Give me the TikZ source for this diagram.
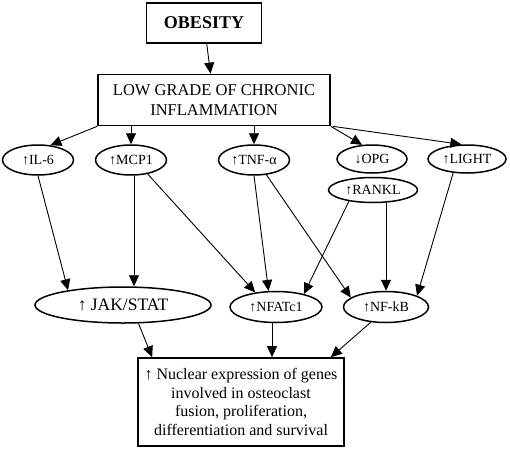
\documentclass[tikz,border=0pt]{standalone}
\usepackage{fontspec}
\setmainfont{Liberation Serif}
\usetikzlibrary{arrows.meta,shapes.geometric}
\tikzset{
  >={Triangle[length=11pt,width=10pt]},
  % rutor
  box/.style={draw,line width=1.7pt,align=center,inner sep=0pt},
  % ovaler
  oval/.style={ellipse,draw,line width=1.5pt,inner sep=0pt,
               minimum height=30pt,font=\fontsize{14}{16}\selectfont},
  link/.style={->,draw=black,line width=0.9pt},
}
\begin{document}
\begin{tikzpicture}[x=1pt,y=-1pt]
  \useasboundingbox (0,0) rectangle (510,450);
  \node[box,minimum width=115pt,minimum height=40pt,font=\fontsize{18}{20}\selectfont\bfseries]
    (obes) at (204,23) {OBESITY};
  \node[box,minimum width=232pt,minimum height=51pt,font=\fontsize{16.5}{20}\selectfont]
    (lgci) at (214,100) {LOW GRADE OF CHRONIC\\INFLAMMATION};
  \node[oval,minimum width=71pt] (il6) at (38,160) {↑IL-6};
  \node[oval,minimum width=71pt] (mcp) at (131,160) {↑MCP1};
  \node[oval,minimum width=71pt] (tnf) at (254,160) {↑TNF-α};
  \node[oval,minimum width=70pt,minimum height=28pt] (opg) at (372,159) {↓OPG};
  \node[oval,minimum width=78pt,minimum height=28pt] (light) at (467,159) {↑LIGHT};
  \node[oval,minimum width=89pt,minimum height=25pt] (rankl) at (373,190) {↑RANKL};
  \node[oval,minimum width=176pt,minimum height=36pt,font=\fontsize{17.5}{19}\selectfont]
    (jak) at (123,305) {↑ JAK/STAT};
  \node[oval,minimum width=92pt,minimum height=31pt] (nfat) at (276,307) {↑NFATc1};
  \node[oval,minimum width=85pt,minimum height=31pt] (nfkb) at (386,307) {↑NF-kB};
  \node[box,minimum width=206pt,minimum height=88pt,font=\fontsize{16}{18.7}\selectfont]
    (genes) at (241,402) {↑ Nuclear expression of genes\\involved in osteoclast\\
      fusion, proliferation,\\differentiation and survival};
  \draw[link] (obes) -- (lgci);
  \draw[link] (lgci.south west) -- (il6.50);
  \draw[link] (lgci.south -| mcp) -- (mcp);
  \draw[link] (lgci.south -| tnf) -- (tnf);
  \draw[link] (lgci.south east) -- (opg.125);
  \draw[link] ([xshift=2pt]lgci.south east) -- (light.111);
  \draw[link] (il6.south) -- (jak.165);
  \draw[link] ([xshift=3pt]mcp.south) -- ([xshift=3pt]mcp.south |- jak.north);
  \draw[link] (mcp.-40) -- (nfat.145);
  \draw[link] (tnf.south) -- (nfat.115);
  \draw[link] (tnf.-50) -- (nfkb.165);
  \draw[link] (rankl.-155) -- (nfat.25);
  \draw[link] (rankl.south -| nfkb.north) -- (nfkb.north);
  \draw[link] (light.-135) -- (nfkb.20);
  \draw[link] (jak.-50) -- ([xshift=15pt]genes.north west);
  \draw[link] ([xshift=-4pt]nfat.south) -- ([xshift=-4pt]nfat.south |- genes.north);
  \draw[link] (nfkb.-135) -- ([xshift=-14pt]genes.north east);
\end{tikzpicture}
\end{document}
